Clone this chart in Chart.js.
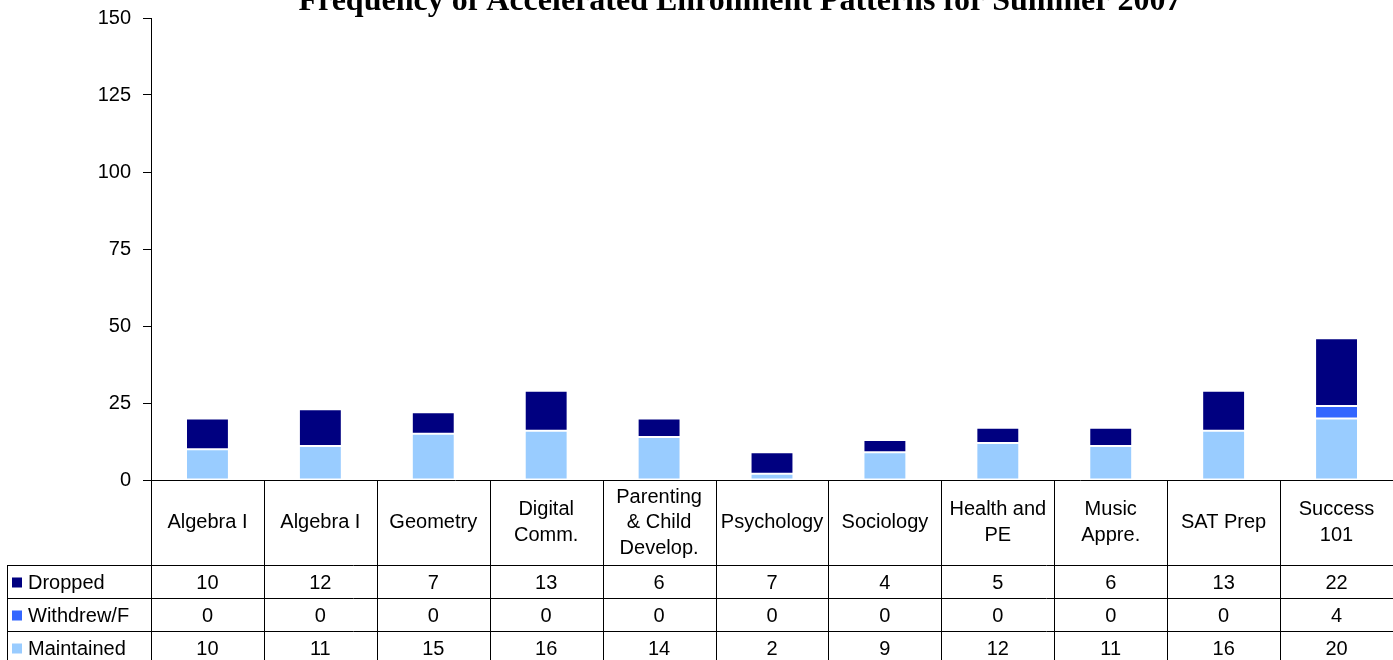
<!DOCTYPE html>
<html>
<head>
<meta charset="utf-8">
<script src="https://cdn.jsdelivr.net/npm/chart.js@4"></script>
<style>
  html, body { margin: 0; padding: 0; background: #fff; }
  #wrap { position: relative; width: 1393px; height: 660px; }
</style>
</head>
<body>
<div id="wrap"><canvas id="stage" width="1393" height="660"></canvas></div>
<script>
// data
const courses = [
  ['Algebra I'], ['Algebra I'], ['Geometry'], ['Digital', 'Comm.'],
  ['Parenting', '& Child', 'Develop.'], ['Psychology'], ['Sociology'],
  ['Health and', 'PE'], ['Music', 'Appre.'], ['SAT Prep'], ['Success', '101']
];
const dropped    = [10, 12, 7, 13, 6, 7, 4, 5, 6, 13, 22];
const withdrew   = [0, 0, 0, 0, 0, 0, 0, 0, 0, 0, 4];
const maintained = [10, 11, 15, 16, 14, 2, 9, 12, 11, 16, 20];
const yTicks = [0, 25, 50, 75, 100, 125, 150];

const titleText = 'Frequency of Accelerated Enrollment Patterns for Summer 2007';
const sansFont = '"Liberation Sans", Arial, sans-serif';

// table rows, top to bottom (same order as the original)
const tableRows = [
  { label: 'Dropped', color: '#000080', values: dropped },
  { label: 'Withdrew/F', color: '#3366FF', values: withdrew },
  { label: 'Maintained', color: '#99CCFF', values: maintained }
];

// title + data table under the plot
const tablePlugin = {
  id: 'dataTable',
  afterDraw(chart) {
    const ctx = chart.ctx;
    const area = chart.chartArea;
    const x = chart.scales.x;
    const half = (x.getPixelForValue(1) - x.getPixelForValue(0)) / 2;
    const headerBottom = area.bottom + 85;
    const rowH = 33;
    const tableLeft = 7;

    ctx.save();
    // title (runs off the top of the picture like the original)
    ctx.fillStyle = '#000';
    ctx.font = 'bold 32px "Liberation Serif", "Times New Roman", serif';
    ctx.textAlign = 'center';
    ctx.textBaseline = 'alphabetic';
    ctx.fillText(titleText, 740, 10);

    ctx.strokeStyle = '#000';
    ctx.lineWidth = 1;
    // x axis line
    ctx.beginPath();
    ctx.moveTo(area.left - 8, Math.round(area.bottom) + 0.5);
    ctx.lineTo(area.right, Math.round(area.bottom) + 0.5);
    ctx.stroke();

    // vertical cell borders
    ctx.beginPath();
    for (let i = 0; i < courses.length; i++) {
      const bx = Math.round(x.getPixelForValue(i) + half) + 0.5;
      ctx.moveTo(bx, area.bottom);
      ctx.lineTo(bx, chart.height);
    }
    ctx.moveTo(Math.round(area.left) + 0.5, area.bottom);
    ctx.lineTo(Math.round(area.left) + 0.5, chart.height);
    ctx.moveTo(tableLeft + 0.5, headerBottom);
    ctx.lineTo(tableLeft + 0.5, chart.height);
    // horizontal row borders
    for (let r = 0; r < tableRows.length; r++) {
      const y = Math.round(headerBottom + r * rowH) + 0.5;
      ctx.moveTo(tableLeft, y);
      ctx.lineTo(area.right, y);
    }
    ctx.stroke();

    // header labels
    ctx.font = '20px ' + sansFont;
    ctx.textBaseline = 'middle';
    const headerMid = (area.bottom + headerBottom) / 2;
    courses.forEach((lines, i) => {
      const cx = x.getPixelForValue(i);
      const top = headerMid - (lines.length - 1) * 25.5 / 2;
      lines.forEach((t, k) => ctx.fillText(t, cx, top + k * 25.5));
    });

    // data rows
    tableRows.forEach((row, r) => {
      const cy = headerBottom + r * rowH + rowH / 2;
      ctx.fillStyle = row.color;
      ctx.fillRect(12, cy - 4, 10, 10);
      ctx.fillStyle = '#000';
      ctx.textAlign = 'left';
      ctx.fillText(row.label, 28, cy + 2);
      ctx.textAlign = 'center';
      row.values.forEach((v, i) => ctx.fillText(String(v), x.getPixelForValue(i), cy + 2));
    });
    ctx.restore();
  }
};

function barSet(label, data, color) {
  return {
    label: label,
    data: data,
    backgroundColor: color,
    borderColor: '#ffffff',
    borderWidth: 1,
    borderSkipped: false,
    barPercentage: 0.38,
    categoryPercentage: 1.0
  };
}

const chart = new Chart(document.getElementById('stage'), {
  type: 'bar',
  data: {
    labels: courses,
    datasets: [
      barSet('Maintained', maintained, '#99CCFF'),
      barSet('Withdrew/F', withdrew, '#3366FF'),
      barSet('Dropped', dropped, '#000080')
    ]
  },
  options: {
    responsive: false,
    animation: false,
    layout: { padding: { left: 0, right: 0, top: 18, bottom: 180 } },
    plugins: {
      legend: { display: false },
      title: { display: false },
      tooltip: { enabled: false }
    },
    scales: {
      x: {
        display: false,
        stacked: true,
        offset: true
      },
      y: {
        stacked: true,
        min: 0,
        max: 150,
        afterBuildTicks(scale) {
          scale.ticks = yTicks.map(v => ({ value: v }));
        },
        afterFit(scale) {
          scale.width = 151;
          scale.paddingTop = 0;
          scale.paddingBottom = 0;
        },
        grid: {
          drawOnChartArea: false,
          drawTicks: true,
          tickLength: 8,
          color: '#000'
        },
        border: { display: true, color: '#000', width: 1 },
        ticks: {
          color: '#000',
          padding: 12,
          font: { family: sansFont, size: 20 }
        }
      }
    }
  },
  plugins: [tablePlugin]
});
</script>
</body>
</html>
